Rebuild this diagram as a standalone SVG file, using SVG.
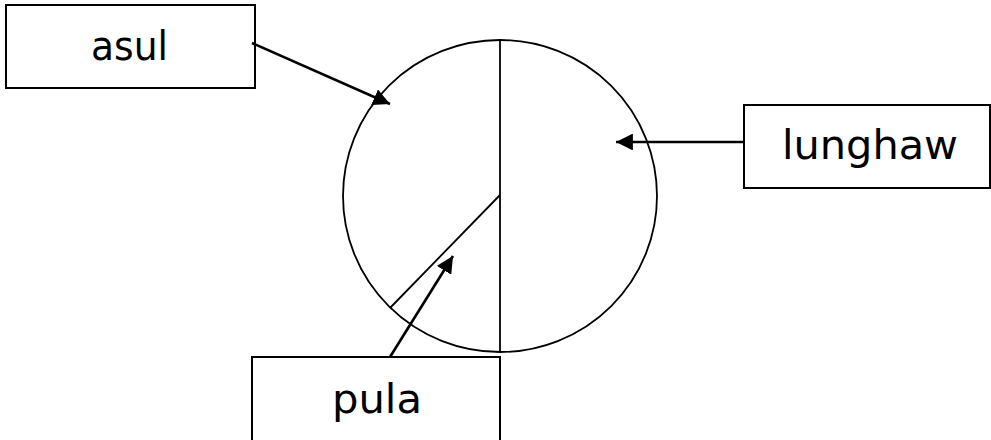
<svg xmlns="http://www.w3.org/2000/svg" width="991" height="440" viewBox="0 0 991 440">
<style>
.box{fill:#fff;stroke:#000;stroke-width:2}
.shape{fill:none;stroke:#000;stroke-width:1.8}
.lbl{font-family:"DejaVu Sans",sans-serif;font-size:40px;fill:#000}
.arr{stroke:#000;stroke-width:2.6;fill:none;marker-end:url(#ah)}
</style>
<defs>
<marker id="ah" viewBox="0 0 10 10" refX="10" refY="5" markerWidth="6.5" markerHeight="6.5" markerUnits="strokeWidth" orient="auto">
<path d="M0,0 L10,5 L0,10 z" fill="#000"/>
</marker>
</defs>
<g id="circle">
<ellipse class="shape" cx="500" cy="196" rx="157" ry="156"/>
<line class="shape" x1="500" y1="40" x2="500" y2="352"/>
<line class="shape" x1="500" y1="195" x2="390" y2="308"/>
</g>
<g id="asul">
<rect class="box" x="6" y="5" width="249" height="83"/>
<text class="lbl" x="91" y="60" textLength="77" lengthAdjust="spacingAndGlyphs">asul</text>
</g>
<g id="lunghaw">
<rect class="box" x="744" y="105" width="246" height="83"/>
<text class="lbl" x="782" y="159" textLength="176" lengthAdjust="spacingAndGlyphs">lunghaw</text>
</g>
<g id="pula">
<rect class="box" x="252" y="357" width="248" height="90"/>
<text class="lbl" x="332" y="413" textLength="90" lengthAdjust="spacingAndGlyphs">pula</text>
</g>
<g id="connectors">
<line class="arr" x1="252" y1="43" x2="390" y2="104"/>
<line class="arr" x1="744" y1="142" x2="616" y2="142"/>
<line class="arr" x1="390" y1="357" x2="453" y2="256"/>
</g>
</svg>
